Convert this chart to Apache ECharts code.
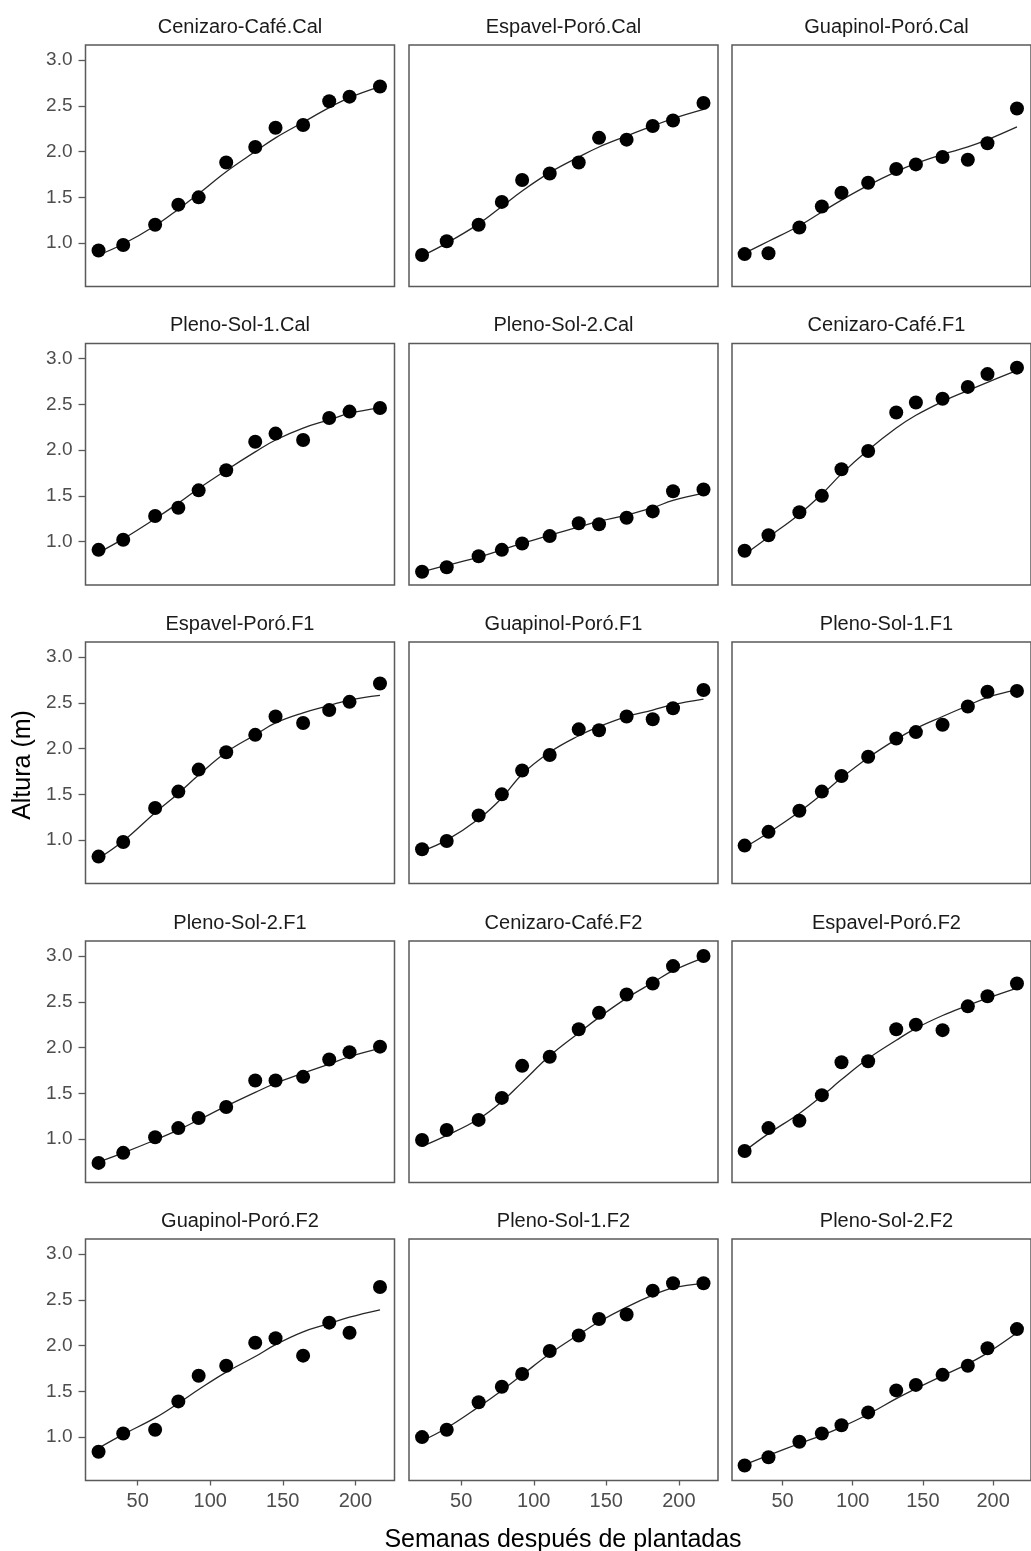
<!DOCTYPE html>
<html><head><meta charset="utf-8">
<script src="https://cdn.jsdelivr.net/npm/echarts@6/dist/echarts.min.js"></script>
<style>html,body{margin:0;padding:0;background:#fff}#c{width:1031px;height:1551px}</style>
</head><body><div id="c"></div>
<script>
// ---- data ----
const weeks = [23, 40, 62, 78, 92, 111, 131, 145, 164, 182, 196, 217];
const xTicks = [50, 100, 150, 200];
const yTicks = [1.0, 1.5, 2.0, 2.5, 3.0];
const panelNames = [
  'Cenizaro-Café.Cal', 'Espavel-Poró.Cal', 'Guapinol-Poró.Cal',
  'Pleno-Sol-1.Cal', 'Pleno-Sol-2.Cal', 'Cenizaro-Café.F1',
  'Espavel-Poró.F1', 'Guapinol-Poró.F1', 'Pleno-Sol-1.F1',
  'Pleno-Sol-2.F1', 'Cenizaro-Café.F2', 'Espavel-Poró.F2',
  'Guapinol-Poró.F2', 'Pleno-Sol-1.F2', 'Pleno-Sol-2.F2'
];
// observed mean heights (m)
const obsCenizaroCafeCal  = [0.92, 0.98, 1.20, 1.42, 1.50, 1.88, 2.05, 2.26, 2.29, 2.55, 2.60, 2.71];
const obsEspavelPoroCal   = [0.87, 1.02, 1.20, 1.45, 1.69, 1.76, 1.88, 2.15, 2.13, 2.28, 2.34, 2.53];
const obsGuapinolPoroCal  = [0.88, 0.89, 1.17, 1.40, 1.55, 1.66, 1.81, 1.86, 1.94, 1.91, 2.09, 2.47];
const obsPlenoSol1Cal     = [0.91, 1.02, 1.28, 1.37, 1.56, 1.78, 2.09, 2.18, 2.11, 2.35, 2.42, 2.46];
const obsPlenoSol2Cal     = [0.67, 0.72, 0.84, 0.91, 0.98, 1.06, 1.20, 1.19, 1.26, 1.33, 1.55, 1.57];
const obsCenizaroCafeF1   = [0.90, 1.07, 1.32, 1.50, 1.79, 1.99, 2.41, 2.52, 2.56, 2.69, 2.83, 2.90];
const obsEspavelPoroF1    = [0.82, 0.98, 1.35, 1.53, 1.77, 1.96, 2.15, 2.35, 2.28, 2.42, 2.51, 2.71];
const obsGuapinolPoroF1   = [0.90, 0.99, 1.27, 1.50, 1.76, 1.93, 2.21, 2.20, 2.35, 2.32, 2.44, 2.64];
const obsPlenoSol1F1      = [0.94, 1.09, 1.32, 1.53, 1.70, 1.91, 2.11, 2.18, 2.26, 2.46, 2.62, 2.63];
const obsPlenoSol2F1      = [0.74, 0.85, 1.02, 1.12, 1.23, 1.35, 1.64, 1.64, 1.68, 1.87, 1.95, 2.01];
const obsCenizaroCafeF2   = [0.99, 1.10, 1.21, 1.45, 1.80, 1.90, 2.20, 2.38, 2.58, 2.70, 2.89, 3.00];
const obsEspavelPoroF2    = [0.87, 1.12, 1.20, 1.48, 1.84, 1.85, 2.20, 2.25, 2.19, 2.45, 2.56, 2.70];
const obsGuapinolPoroF2   = [0.84, 1.04, 1.08, 1.39, 1.67, 1.78, 2.03, 2.08, 1.89, 2.25, 2.14, 2.64];
const obsPlenoSol1F2      = [1.00, 1.08, 1.38, 1.55, 1.69, 1.94, 2.11, 2.29, 2.34, 2.60, 2.68, 2.68];
const obsPlenoSol2F2      = [0.69, 0.78, 0.95, 1.04, 1.13, 1.27, 1.51, 1.57, 1.68, 1.78, 1.97, 2.18];
// fitted curves (m)
const fitCenizaroCafeCal  = [0.87, 0.99, 1.19, 1.37, 1.54, 1.78, 2.00, 2.15, 2.32, 2.48, 2.59, 2.71];
const fitEspavelPoroCal   = [0.86, 1.00, 1.21, 1.40, 1.57, 1.77, 1.94, 2.05, 2.17, 2.28, 2.36, 2.46];
const fitGuapinolPoroCal  = [0.89, 1.02, 1.19, 1.34, 1.47, 1.63, 1.78, 1.87, 1.97, 2.05, 2.13, 2.27];
const fitPlenoSol1Cal     = [0.88, 1.03, 1.25, 1.42, 1.58, 1.78, 1.98, 2.11, 2.24, 2.33, 2.40, 2.46];
const fitPlenoSol2Cal     = [0.67, 0.74, 0.83, 0.91, 0.98, 1.07, 1.16, 1.22, 1.29, 1.37, 1.45, 1.53];
const fitCenizaroCafeF1   = [0.86, 1.05, 1.30, 1.52, 1.74, 2.00, 2.24, 2.38, 2.53, 2.65, 2.74, 2.87];
const fitEspavelPoroF1    = [0.80, 0.99, 1.30, 1.51, 1.71, 1.96, 2.15, 2.28, 2.39, 2.47, 2.53, 2.58];
const fitGuapinolPoroF1   = [0.88, 1.00, 1.23, 1.46, 1.72, 1.96, 2.14, 2.24, 2.35, 2.42, 2.48, 2.54];
const fitPlenoSol1F1      = [0.92, 1.08, 1.31, 1.50, 1.68, 1.90, 2.10, 2.22, 2.35, 2.47, 2.56, 2.64];
const fitPlenoSol2F1      = [0.75, 0.85, 0.99, 1.10, 1.21, 1.36, 1.51, 1.61, 1.72, 1.82, 1.90, 1.99];
const fitCenizaroCafeF2   = [0.92, 1.04, 1.22, 1.41, 1.62, 1.91, 2.16, 2.33, 2.54, 2.71, 2.84, 2.98];
const fitEspavelPoroF2    = [0.87, 1.06, 1.28, 1.47, 1.65, 1.88, 2.08, 2.21, 2.35, 2.46, 2.54, 2.65];
const fitGuapinolPoroF2   = [0.88, 1.03, 1.21, 1.37, 1.52, 1.71, 1.88, 2.01, 2.15, 2.24, 2.31, 2.39];
const fitPlenoSol1F2      = [0.96, 1.10, 1.33, 1.51, 1.68, 1.91, 2.12, 2.26, 2.42, 2.55, 2.63, 2.68];
const fitPlenoSol2F2      = [0.70, 0.80, 0.93, 1.02, 1.11, 1.25, 1.42, 1.53, 1.67, 1.80, 1.92, 2.14];

const observed = [obsCenizaroCafeCal, obsEspavelPoroCal, obsGuapinolPoroCal, obsPlenoSol1Cal, obsPlenoSol2Cal,
  obsCenizaroCafeF1, obsEspavelPoroF1, obsGuapinolPoroF1, obsPlenoSol1F1, obsPlenoSol2F1,
  obsCenizaroCafeF2, obsEspavelPoroF2, obsGuapinolPoroF2, obsPlenoSol1F2, obsPlenoSol2F2];
const fitted = [fitCenizaroCafeCal, fitEspavelPoroCal, fitGuapinolPoroCal, fitPlenoSol1Cal, fitPlenoSol2Cal,
  fitCenizaroCafeF1, fitEspavelPoroF1, fitGuapinolPoroF1, fitPlenoSol1F1, fitPlenoSol2F1,
  fitCenizaroCafeF2, fitEspavelPoroF2, fitGuapinolPoroF2, fitPlenoSol1F2, fitPlenoSol2F2];

// ---- layout ----
const colLeft = [85.5, 409, 732];
const rowTop = [45, 343.5, 642, 941, 1239];
const W = 309, H = 241.5;
const FONT = "'Liberation Sans', Arial, Helvetica, sans-serif";
const grid = [], xAxis = [], yAxis = [], series = [], graphic = [];

panelNames.forEach((name, i) => {
  const r = Math.floor(i / 3), c = i % 3;
  const bottomRow = r === 4, leftCol = c === 0;
  grid.push({ left: colLeft[c], top: rowTop[r], width: W, height: H,
    show: true, borderColor: '#5a5a5a', borderWidth: 1.5, backgroundColor: '#fff' });
  xAxis.push({ type: 'value', gridIndex: i, min: 14, max: 227,
    axisLine: { show: false }, splitLine: { show: false },
    axisTick: { show: bottomRow, customValues: xTicks, length: 5, lineStyle: { color: '#5a5a5a', width: 1.3 } },
    axisLabel: { show: bottomRow, customValues: xTicks, margin: 11, fontSize: 20, color: '#4d4d4d', fontFamily: FONT } });
  yAxis.push({ type: 'value', gridIndex: i, min: 0.526, max: 3.164,
    axisLine: { show: false }, splitLine: { show: false },
    axisTick: { show: leftCol, customValues: yTicks, length: 7, lineStyle: { color: '#5a5a5a', width: 1.3 } },
    axisLabel: { show: leftCol, customValues: yTicks, margin: 13, fontSize: 19, color: '#4d4d4d', fontFamily: FONT,
      formatter: v => v.toFixed(1) } });
  series.push({ type: 'line', xAxisIndex: i, yAxisIndex: i, smooth: 0.4, showSymbol: false, silent: true,
    data: weeks.map((w, j) => [w, fitted[i][j]]), lineStyle: { color: '#262626', width: 1.3 }, z: 2 });
  series.push({ type: 'scatter', xAxisIndex: i, yAxisIndex: i, symbol: 'circle', symbolSize: 14,
    data: weeks.map((w, j) => [w, observed[i][j]]), itemStyle: { color: '#000', opacity: 1 }, z: 3 });
  graphic.push({ type: 'text', x: colLeft[c] + W / 2, y: rowTop[r] - 18,
    style: { text: name, fontSize: 20, fontFamily: FONT, fill: '#1a1a1a', align: 'center', verticalAlign: 'middle' } });
});
graphic.push({ type: 'text', x: 23, y: 765, rotation: Math.PI / 2,
  style: { text: 'Altura (m)', fontSize: 25, fontFamily: FONT, fill: '#000', align: 'center', verticalAlign: 'middle' } });
graphic.push({ type: 'text', x: 563, y: 1540,
  style: { text: 'Semanas después de plantadas', fontSize: 25, fontFamily: FONT, fill: '#000', align: 'center', verticalAlign: 'middle' } });

const chart = echarts.init(document.getElementById('c'));
chart.setOption({ animation: false, backgroundColor: '#fff', grid, xAxis, yAxis, series, graphic });
</script></body></html>
